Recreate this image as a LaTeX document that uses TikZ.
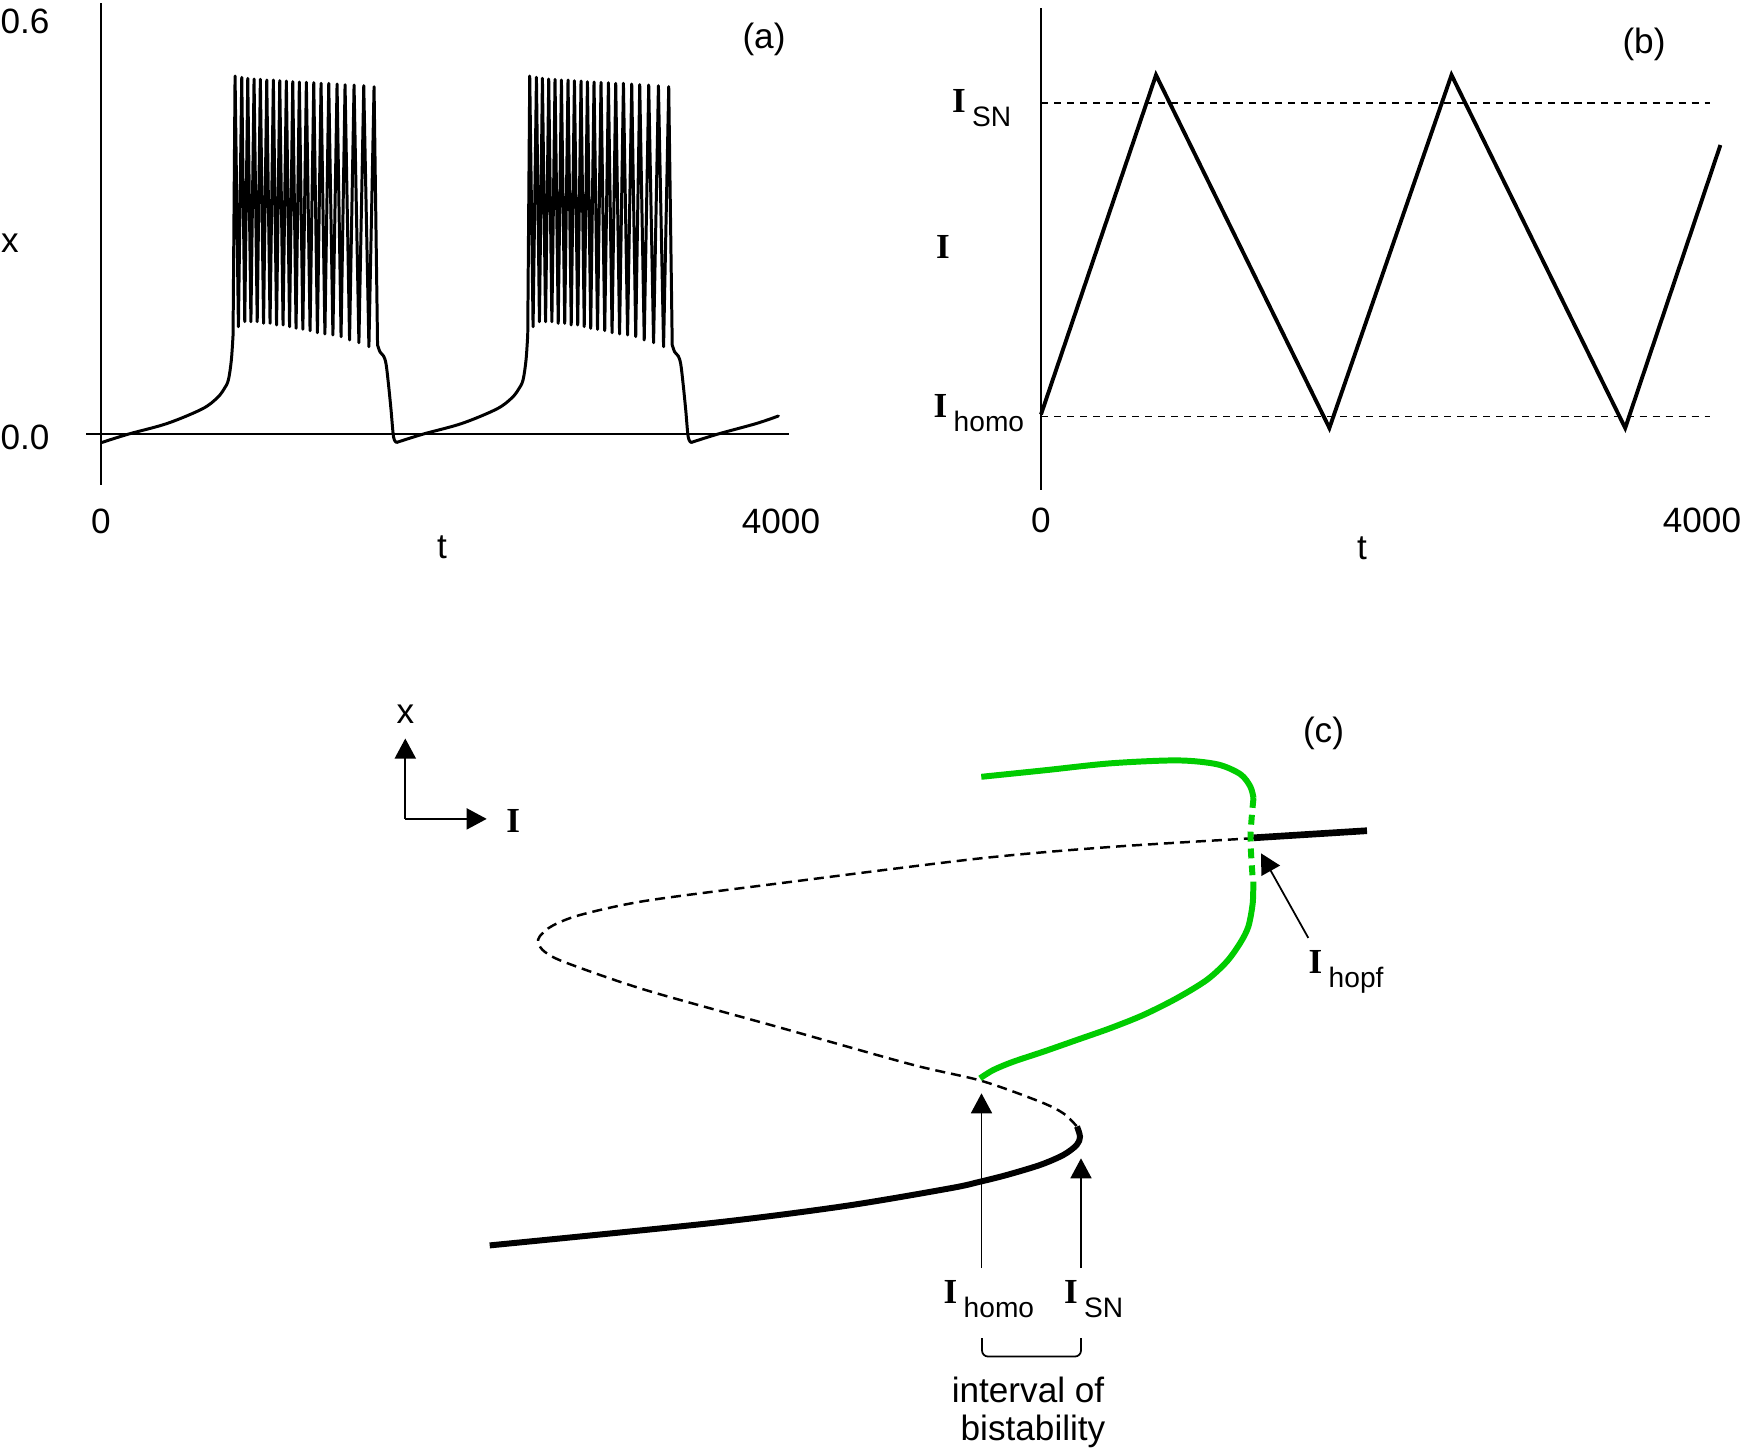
\documentclass[tikz,border=0pt]{standalone}
\usepackage{fontspec}
\setmainfont{Liberation Sans}
\newfontfamily\serifbf{Liberation Serif}
\usetikzlibrary{arrows.meta}
\definecolor{curvegreen}{RGB}{0,204,0}
\newcommand{\BI}{{\serifbf\bfseries I}}
\newcommand{\Isub}[1]{\BI\hspace{1.8pt}\raisebox{-4pt}{\fontsize{8}{9}\selectfont #1}}
\newcommand{\burstperiod}{%
plot[smooth,tension=0.55] coordinates {(0,442.4) (26,434.2) (65,423.5) (100,409) (115,398) (122,389) (126.3,380) (129.3,360) (131,335)}
-- (133,76) -- (136.35,326.7) -- (139.7,77.3) -- (142.7,321.7) -- (145.7,78.3) -- (148.85,321.7) -- (152,79) -- (155.15,321.7) -- (158.3,79.3) -- (161.5,323.3) -- (164.7,80) -- (168,323.3) -- (171.3,80) -- (174.5,325) -- (177.7,80.7) -- (181,325) -- (184.3,81) -- (187.5,326.7) -- (190.7,81.7) -- (194,328.3) -- (197.3,82) -- (200.8,329.3) -- (204.3,82.3) -- (208,330.7) -- (211.7,82.7) -- (215.35,332.7) -- (219,83.3) -- (222.85,334) -- (226.7,83.3) -- (230.85,335) -- (235,84) -- (239,336.7) -- (243,84.7) -- (247.5,340) -- (252,85) -- (256.85,342.7) -- (261.7,85.7) -- (266.85,346.7) -- (272,86.7) -- (275.5,345)
-- plot[smooth,tension=0.55] coordinates {(275.5,345) (278,352) (281.5,356) (284,364) (286.5,385) (289,410) (291.5,437) (294.5,442.4)}}
\tikzset{
  lbl/.style={font=\fontsize{10}{12}\selectfont, inner sep=0pt},
  ilbl/.style={font=\fontsize{10}{12}\selectfont, inner sep=0pt, anchor=base west},
  axisline/.style={line width=0.7pt},
  trace/.style={line width=0.85pt, line join=round, line cap=round},
  triwave/.style={line width=1.1pt, line join=miter},
  level/.style={line width=0.5pt, dash pattern=on 2pt off 1.7pt},
  stable/.style={line width=1.7pt, line cap=butt},
  unstable/.style={line width=0.7pt, dash pattern=on 2.85pt off 1.7pt},
  gcurve/.style={line width=1.7pt, curvegreen},
  gdash/.style={line width=1.7pt, curvegreen, dash pattern=on 2.8pt off 2pt},
  thinarrow/.style={line width=0.5pt, -{Triangle[length=0.2cm,width=0.21cm]}},
  bracket/.style={line width=0.5pt, rounded corners=0.06cm}
}
\begin{document}
\begin{tikzpicture}[x=0.01cm,y=-0.01cm]
\useasboundingbox (0,0) rectangle (1744,1454);
% ---------------- panel (a)
\draw[axisline] (101,3) -- (101,485);
\draw[axisline] (86,434) -- (789,434);
\begin{scope}[xshift=1.02cm]
  \draw[trace] \burstperiod;
\end{scope}
\begin{scope}[xshift=3.965cm]
  \draw[trace] \burstperiod;
\end{scope}
\begin{scope}[xshift=6.91cm]
  \draw[trace] plot[smooth,tension=0.55] coordinates {(0,442.4) (26,434.2) (65,423.5) (87,416)};
\end{scope}
\node[lbl] (a06) at (25,21) {0.6};
\node[lbl] (a00) at (25,437) {0.0};
\node[lbl] (ax) at (10,243) {x};
\node[lbl] (atag) at (764,39) {(a)};
\node[lbl] (at0) at (101,521) {0};
\node[lbl] (at4) at (781,521) {4000};
\node[lbl] (att) at (442,547) {t};
% ---------------- panel (b)
\draw[axisline] (1041,8) -- (1041,490);
\draw[level] (1041,103) -- (1710,103);
\draw[level] (1041,416.4) -- (1710,416.4);
\draw[triwave] (1041,414.5) -- (1156,75) -- (1329.4,428) -- (1451.5,75) -- (1625.2,428) -- (1720.4,145);
\node[ilbl] (bisn) at (951.5,112.5) {\Isub{SN}};
\node[lbl] (bi) at (943,247) {\BI};
\node[ilbl] (bihomo) at (933,417) {\Isub{homo}};
\node[lbl] (btag) at (1644,44) {(b)};
\node[lbl] (bt0) at (1041,520) {0};
\node[lbl] (bt4) at (1702,520) {4000};
\node[lbl] (btt) at (1362,548) {t};
% ---------------- panel (c)
\coordinate (corner) at (405.3,818.9);
\coordinate (uptip) at (405.3,738.5);
\coordinate (righttip) at (486.7,818.9);
\draw[thinarrow] (corner) -- (uptip);
\draw[thinarrow] (corner) -- (righttip);
\node[lbl] (cx) at (405.3,714) {x};
\node[lbl] (cI) at (513.3,821.4) {\BI};
\node[lbl] (ctag) at (1323.5,733.6) {(c)};
% unstable (dashed) branch
\draw[unstable] plot[smooth,tension=0.5] coordinates {(1253.8,838.2) (1110,847) (978.1,858.6) (778.7,883.4) (645.9,900.8) (580,915) (552,926) (540,936) (538.2,943) (545,952) (566.1,962.7) (645.9,990.1) (778.7,1027.2) (911.6,1064.5) (981.3,1080.8) (1040,1101.7) (1063.3,1113.3) (1077,1126.5)};
% lower stable branch
\draw[stable] plot[smooth,tension=0.5] coordinates {(1077,1126.5) (1080,1136.7) (1076.7,1145) (1063.3,1155) (1040,1165) (1006.7,1175) (980,1181.7) (950,1188.3) (845,1206) (712,1223) (489.7,1245.4)};
% green periodic branch
\draw[gcurve] plot[smooth,tension=0.5] coordinates {(981.3,776.8) (1044.5,770.3) (1110.9,763.3) (1177.4,760.4) (1217.2,764.3) (1240.4,774.2) (1250.4,786.7) (1253.5,798)};
\draw[gdash] plot[smooth,tension=0.5] coordinates {(1253.5,798) (1250.5,838) (1253,882)};
\draw[gcurve] plot[smooth,tension=0.5] coordinates {(1253.3,881.7) (1252.7,903.3) (1248.3,926.7) (1240,943.3) (1226.7,961.7) (1206.7,980) (1176.7,998.3) (1143.3,1015) (1110,1028.3) (1076.7,1040) (1043.3,1051.7) (1013.3,1061.7) (993.3,1070) (980,1078.3)};
% upper stable branch
\draw[stable, line width=1.9pt] (1253.8,837.8) -- (1367,830.7);
% labels and arrows
\node[ilbl] (chomo) at (943,1303) {\Isub{homo}};
\node[ilbl] (csn) at (1063.3,1303) {\Isub{SN}};
\node[ilbl] (chopf) at (1308,973) {\Isub{hopf}};
\coordinate (homobase) at (981.5,1268);
\coordinate (homotip) at (981.5,1093.3);
\coordinate (snbase) at (1081,1268);
\coordinate (sntip) at (1081,1158.3);
\coordinate (hopfbase) at (1308.3,937.9);
\coordinate (hopftip) at (1261,853.3);
\draw[thinarrow] (homobase) -- (homotip);
\draw[thinarrow] (snbase) -- (sntip);
\draw[thinarrow] (hopfbase) -- (hopftip);
\draw[bracket] (982,1338) |- (1081,1356.5) -- (1081,1338);
\node[lbl] (int1) at (1028,1390) {interval of};
\node[lbl] (int2) at (1033,1431) {bistability};
\end{tikzpicture}
\end{document}
